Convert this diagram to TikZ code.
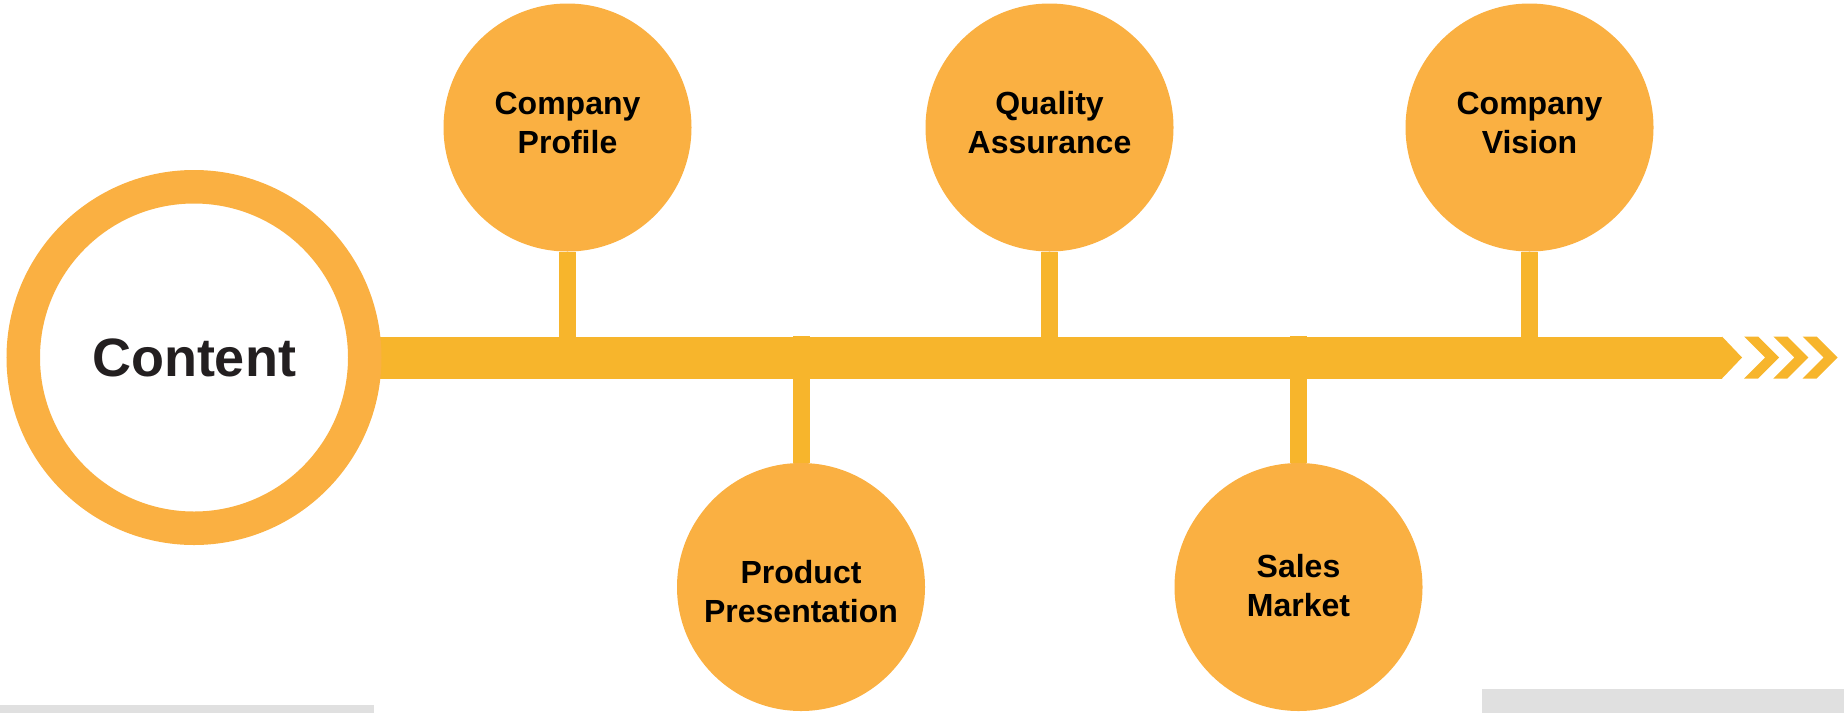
\documentclass[tikz,border=0pt]{standalone}
\usepackage{fontspec}
\setmainfont{Liberation Sans}
\definecolor{circ}{HTML}{FAB042}
\definecolor{barc}{HTML}{F7B52C}
\definecolor{grayb}{HTML}{E0E0E0}
\definecolor{ink}{HTML}{231F20}
\begin{document}
\begin{tikzpicture}[x=1pt,y=-1pt,
  bubble/.style={circle,fill=circ,inner sep=0pt,minimum size=248pt},
  lbl/.style={align=center,font=\fontsize{32}{39}\selectfont\bfseries,text=black,inner sep=0pt},
  stemline/.style={draw=barc,line width=17pt},
  chev/.style={fill=barc},
  band/.style={fill=grayb}]
\path[use as bounding box] (0,0) rectangle (1844,713);
% grey bands at the bottom
\fill[band] (0,705) rectangle (374,713);
\fill[band] (1482,689) rectangle (1844,713);
% main bar
\node[rectangle,fill=barc,minimum width=1364pt,minimum height=42pt,inner sep=0pt,outer sep=0pt] (bar) at (1040,357.5) {};
\fill[barc] (bar.north east) -- ++(20,21) -- (bar.south east) -- cycle;
\foreach \x in {1744,1773.3,1802.7}
  \fill[chev] (\x,336.5) -- ++(14,0) -- ++(21,21) -- ++(-21,21) -- ++(-14,0) -- ++(21,-21) -- cycle;
% bubbles
\node[bubble] (cp) at (567.5,127.5) {};
\node[bubble] (qa) at (1049.5,127.5) {};
\node[bubble] (cv) at (1529.5,127.5) {};
\node[bubble] (pp) at (801,587) {};
\node[bubble] (sm) at (1298.5,587) {};
% stems
\draw[stemline] (cp) -- (cp |- bar.north);
\draw[stemline] (qa) -- (qa |- bar.north);
\draw[stemline] (cv) -- (cv |- bar.north);
\draw[stemline] (pp) -- ([yshift=1pt]pp |- bar.north);
\draw[stemline] (sm) -- ([yshift=1pt]sm |- bar.north);
% labels
\node[lbl] (cpl) at ([yshift=5pt]cp.center) {Company\\Profile};
\node[lbl] (qal) at ([yshift=5pt]qa.center) {Quality\\Assurance};
\node[lbl] (cvl) at ([yshift=5pt]cv.center) {Company\\Vision};
\node[lbl] (ppl) at ([yshift=-5pt]pp.center) {Product\\Presentation};
\node[lbl] (sml) at ([yshift=1pt]sm.center) {Sales\\Market};
% content circle
\node[circle,draw=circ,line width=33.5pt,fill=white,minimum size=341.5pt,inner sep=0pt,
      font=\fontsize{54}{60}\selectfont\bfseries,text=ink] (content) at (194,357.5) {Content};
\end{tikzpicture}
\end{document}
